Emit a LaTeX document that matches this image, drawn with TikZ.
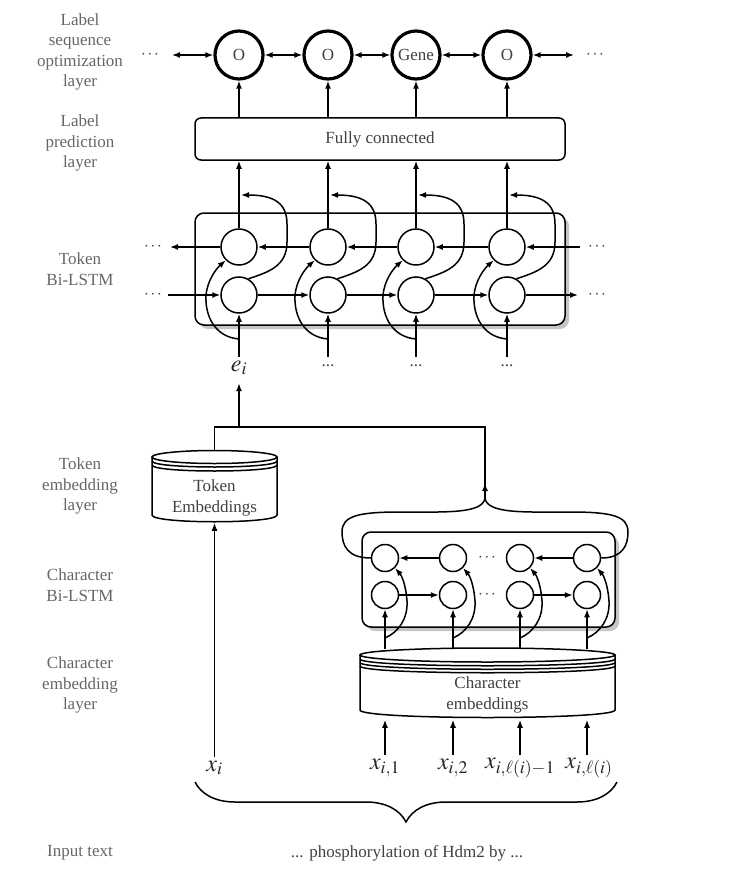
\documentclass[tikz,border=0pt]{standalone}
\usepackage{mathptmx}
\usepackage[no-math]{fontspec}
\setmainfont{Liberation Serif}
\usetikzlibrary{arrows.meta, positioning, shadows, decorations.pathreplacing}

\begin{document}
\begin{tikzpicture}[x=1pt, y=-1pt, line width=1.5pt,
    every node/.style={font=\fontsize{17}{20.5}\selectfont, text=black!75},
    layerlab/.style={align=center, text=black!60},
    crf/.style={circle, draw, line width=3.2pt, minimum size=48pt, inner sep=0pt},
    cell/.style={circle, draw, fill=white, minimum size=36pt, inner sep=0pt},
    ccell/.style={circle, draw, fill=white, minimum size=27pt, inner sep=0pt},
    lstm/.style={draw, rounded corners=9pt, fill=white, drop shadow={shadow xshift=4pt, shadow yshift=-4pt, fill=black!45}},
    fcbox/.style={draw, rounded corners=6pt, minimum width=370pt, minimum height=42pt},
    drum/.style={align=center, inner sep=0pt},
    vec/.style={font=\fontsize{24}{28}\selectfont, text=black!85},
    arr/.style={-{Latex[length=8pt, width=6pt]}},
    biarr/.style={{Latex[length=8pt, width=6pt]}-{Latex[length=8pt, width=6pt]}}]

    \useasboundingbox (0,0) rectangle (729,872);

    % layer names
    \node[layerlab] (labcrf) at (80,52) {Label\\sequence\\optimization\\layer};
    \node[layerlab] (labfc) at (80,143) {Label\\prediction\\layer};
    \node[layerlab] (labtok) at (80,269) {Token\\Bi-LSTM};
    \node[layerlab] (labtemb) at (80,486) {Token\\embedding\\layer};
    \node[layerlab] (labchar) at (80,585) {Character\\Bi-LSTM};
    \node[layerlab] (labcemb) at (80,685) {Character\\embedding\\layer};
    \node[layerlab] (labin) at (80,853) {Input text};

    % label sequence optimization
    \node[crf] (o1) at (239,55) {O};
    \node[crf] (o2) at (328,55) {O};
    \node[crf] (o3) at (416,55) {Gene};
    \node[crf] (o4) at (507,55) {O};
    \node (crfdl) at (150,55) {$\cdots$};
    \node (crfdr) at (595,55) {$\cdots$};
    \coordinate (crfl) at (172,55);
    \coordinate (crfr) at (574,55);
    \draw[biarr] (crfl) -- (o1);
    \draw[biarr] (o1) -- (o2);
    \draw[biarr] (o2) -- (o3);
    \draw[biarr] (o3) -- (o4);
    \draw[biarr] (o4) -- (crfr);

    % label prediction
    \node[fcbox] (fc) at (380,139) {Fully connected};

    % token Bi-LSTM
    \node[lstm, minimum width=370pt, minimum height=112pt] (tokbox) at (380,269) {};
    \node[cell] (bw1) at (239,247) {};
    \node[cell] (bw2) at (328,247) {};
    \node[cell] (bw3) at (416,247) {};
    \node[cell] (bw4) at (507,247) {};
    \node[cell] (fw1) at (239,295) {};
    \node[cell] (fw2) at (328,295) {};
    \node[cell] (fw3) at (416,295) {};
    \node[cell] (fw4) at (507,295) {};
    \node (bwdl) at (153,247) {$\cdots$};
    \node (fwdl) at (153,295) {$\cdots$};
    \node (bwdr) at (597,247) {$\cdots$};
    \node (fwdr) at (597,295) {$\cdots$};
    \coordinate (bwl) at (170,247);
    \coordinate (bwr) at (580,247);
    \coordinate (fwl) at (168,295);
    \coordinate (fwr) at (578,295);
    \draw[arr] (bwr) -- (bw4);
    \draw[arr] (bw4) -- (bw3);
    \draw[arr] (bw3) -- (bw2);
    \draw[arr] (bw2) -- (bw1);
    \draw[arr] (bw1) -- (bwl);
    \draw[arr] (fwl) -- (fw1);
    \draw[arr] (fw1) -- (fw2);
    \draw[arr] (fw2) -- (fw3);
    \draw[arr] (fw3) -- (fw4);
    \draw[arr] (fw4) -- (fwr);

    % token vectors
    \node[vec] (e1) at (239,368) {$e_i$};
    \node (e2) at (328,366) {...};
    \node (e3) at (416,366) {...};
    \node (e4) at (507,366) {...};

    \foreach \n/\x in {1/239, 2/328, 3/416, 4/507} {
        \coordinate (ein\n) at (\x,339);
        \draw[arr] (bw\n) -- (fc.south -| bw\n);
        \draw[arr] (o\n |- fc.north) -- (o\n);
        \draw[arr] (ein\n |- e1.north) -- (fw\n);
        \draw[arr] (fw\n.60) .. controls (\x+30,272) and (\x+48,266) .. (\x+48,242)
            -- (\x+48,224) .. controls (\x+48,204) and (\x+36,195) .. (\x+2,195);
        \draw[arr] (ein\n) .. controls (\x-24,337) and (\x-34,316) .. (\x-33,296)
            .. controls (\x-32,280) and (\x-22,268) .. (bw\n.225);
    }

    % token embeddings
    \draw[fill=white] (152,457) -- (152,515) .. controls (152,524) and (277,524) .. (277,515) -- (277,457);
    \draw[fill=white] (214.5,457) ellipse [x radius=62.5, y radius=6.5];
    \draw (152,461) .. controls (152,469) and (277,469) .. (277,461);
    \draw (152,465) .. controls (152,473) and (277,473) .. (277,465);
    \node[drum, minimum width=125pt, minimum height=48pt] (tokemb) at (214.5,498) {Token\\Embeddings};
    \coordinate (ttop) at (214.5,451);
    \coordinate (join) at (485,427);
    \coordinate (brtip) at (485,498);
    \coordinate (brarr) at (485,483);
    \draw (ttop) |- (join) -- (brtip);
    \draw[arr] (brtip) -- (brarr);
    \draw[arr, shorten >=4pt] (e1 |- join) -- (e1);

    % character Bi-LSTM
    \node[lstm, minimum width=253pt, minimum height=95pt] (charbox) at (488.5,579.5) {};
    \node[ccell] (cbw1) at (385,558) {};
    \node[ccell] (cbw2) at (453,558) {};
    \node[ccell] (cbw3) at (520,558) {};
    \node[ccell] (cbw4) at (587,558) {};
    \node[ccell] (cfw1) at (385,595) {};
    \node[ccell] (cfw2) at (453,595) {};
    \node[ccell] (cfw3) at (520,595) {};
    \node[ccell] (cfw4) at (587,595) {};
    \node (cbwd) at (487,558) {$\cdots$};
    \node (cfwd) at (487,595) {$\cdots$};
    \draw[arr] (cbw2) -- (cbw1);
    \draw[arr] (cbw4) -- (cbw3);
    \draw[arr] (cfw1) -- (cfw2);
    \draw[arr] (cfw3) -- (cfw4);
    \draw (cbw1.west) .. controls (348,558) and (342,546) .. (342,532)
        .. controls (342,516) and (358,512) .. (400,512)
        .. controls (445,512) and (483,514) .. (brtip);
    \draw (cbw4.east) .. controls (622,558) and (628,546) .. (628,532)
        .. controls (628,516) and (612,512) .. (570,512)
        .. controls (525,512) and (487,514) .. (brtip);

    % character embeddings
    \draw[fill=white] (360,655) -- (360,710) .. controls (360,720) and (615,720) .. (615,710) -- (615,655);
    \draw[fill=white] (487.5,655) ellipse [x radius=127.5, y radius=7];
    \draw (360,659) .. controls (360,668) and (615,668) .. (615,659);
    \draw (360,662.5) .. controls (360,671.5) and (615,671.5) .. (615,662.5);
    \draw (360,666) .. controls (360,675) and (615,675) .. (615,666);
    \node[drum, minimum width=255pt, minimum height=48pt] (charemb) at (487.5,695) {Character\\embeddings};
    \coordinate (ctop) at (0,649);

    % input tokens and characters
    \node[vec] (xi) at (214.5,768) {$x_i$};
    \node[vec] (xc1) at (385,768) {$x_{i,1}$};
    \node[vec] (xc2) at (453,768) {$x_{i,2}$};
    \node[vec] (xc3) at (520,768) {$x_{i,\ell(i)-1}$};
    \node[vec] (xc4) at (589,768) {$x_{i,\ell(i)}$};
    \draw[arr] (xi.north) -- (tokemb.south);

    \foreach \n/\x in {1/385, 2/453, 3/520, 4/587} {
        \coordinate (cin\n) at (\x,638);
        \draw[arr] (ctop -| cfw\n) -- (cfw\n);
        \draw[arr] (cfw\n |- xc1.north) -- (cfw\n |- charemb.south);
        \draw[arr] (cin\n) .. controls (\x+14,632) and (\x+23,618) .. (\x+22,601)
            .. controls (\x+21,586) and (\x+17,576) .. (cbw\n.315);
    }

    % input text
    \coordinate (brl) at (195,782);
    \coordinate (brr) at (617,782);
    \draw[decorate, decoration={brace, amplitude=40pt}] (brr) -- (brl);
    \node (intext) at (407,853) {... phosphorylation of Hdm2 by ...};
\end{tikzpicture}
\end{document}
